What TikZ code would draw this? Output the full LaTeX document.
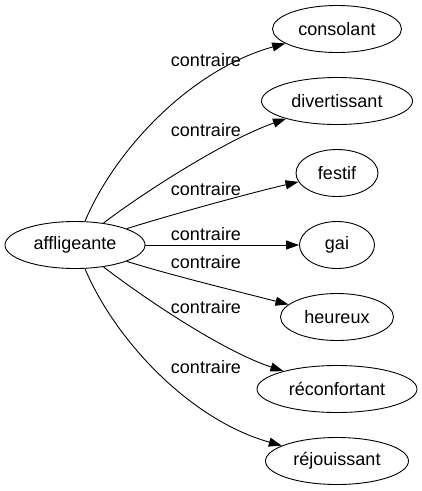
\documentclass[tikz,border=0pt]{standalone}
\usepackage{fontspec}
\setmainfont{Liberation Sans}
\usetikzlibrary{shapes.geometric,arrows.meta}
\begin{document}
\begin{tikzpicture}[x=1pt,y=-1pt,
  word/.style={draw,ellipse,line width=0.9pt,inner sep=0pt,minimum height=47pt,font=\fontsize{18}{22}\selectfont},
  rel/.style={font=\fontsize{18}{22}\selectfont,inner sep=0pt},
  link/.style={line width=0.9pt,-{Triangle[length=13pt,width=9pt]}}]
\useasboundingbox (0,0) rectangle (422,491);
\node[word,minimum width=140pt] (a) at (75,245) {affligeante};
\node[word,minimum width=129pt] (b1) at (337,29) {consolant};
\node[word,minimum width=151pt] (b2) at (337,101) {divertissant};
\node[word,minimum width=82pt] (b3) at (337,173) {festif};
\node[word,minimum width=75pt] (b4) at (337,245) {gai};
\node[word,minimum width=113pt] (b5) at (337,317) {heureux};
\node[word,minimum width=160pt] (b6) at (337,389) {réconfortant};
\node[word,minimum width=143pt] (b7) at (337,461) {réjouissant};
\draw[link] (a) .. controls (115,150) and (190,70) .. (b1);
\draw[link] (a) .. controls (140,195) and (225,140) .. (b2);
\draw[link] (a) .. controls (170,215) and (250,193) .. (b3);
\draw[link] (a) -- (b4);
\draw[link] (a) .. controls (170,275) and (240,292) .. (b5);
\draw[link] (a) .. controls (140,295) and (220,350) .. (b6);
\draw[link] (a) .. controls (115,340) and (190,420) .. (b7);
\node[rel] (l1) at (206,60) {contraire};
\node[rel] (l2) at (206,130) {contraire};
\node[rel] (l3) at (206,189) {contraire};
\node[rel] (l4) at (206,234) {contraire};
\node[rel] (l5) at (206,262) {contraire};
\node[rel] (l6) at (206,307) {contraire};
\node[rel] (l7) at (206,367) {contraire};
\end{tikzpicture}
\end{document}
